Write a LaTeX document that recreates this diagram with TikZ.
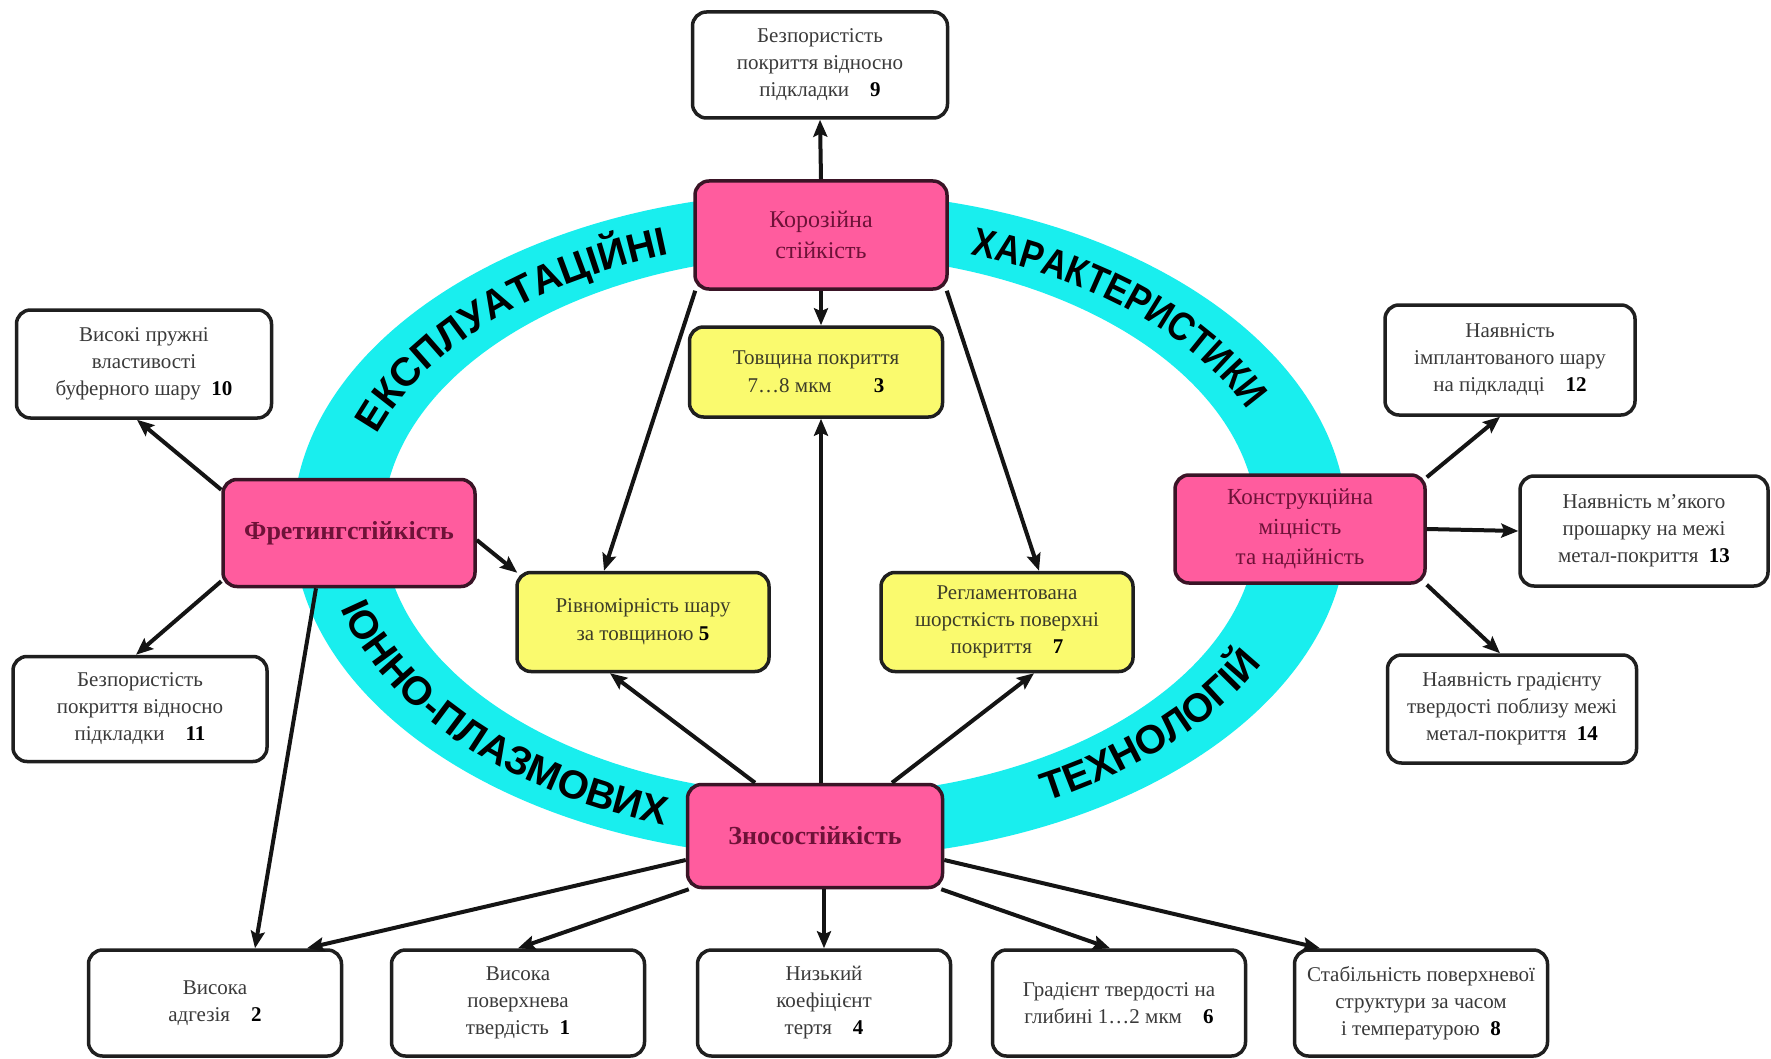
\documentclass[tikz,border=0pt]{standalone}
\usepackage{fontspec}
\setmainfont{Liberation Serif}
\newfontfamily\ringfam{Liberation Sans}
\newfontfamily\ringfamc[FakeStretch=0.86]{Liberation Sans}
\usetikzlibrary{arrows.meta,decorations.text}
\definecolor{ringc}{HTML}{19EEEE}
\definecolor{pinkfill}{HTML}{FF5C9E}
\definecolor{pinkline}{HTML}{3A1426}
\definecolor{pinktext}{HTML}{6E1238}
\definecolor{yelfill}{HTML}{FAFA6E}
\definecolor{yeltext}{HTML}{3C3C28}
\definecolor{greytext}{HTML}{3A3A3A}
\newcommand\bnum[1]{\textbf{\textcolor{black}{#1}}}
\newcommand\ringtxt{\ringfam\bfseries\fontsize{40}{40}\selectfont}
\newcommand\ringtxtc{\ringfamc\bfseries\fontsize{40}{40}\selectfont}
\begin{document}
\begin{tikzpicture}[x=1pt,y=1pt,
  box/.style={rounded corners=14pt, line width=3.5pt, draw=black!88, inner sep=0pt,
    minimum width=253pt, minimum height=106pt, align=center,
    font=\fontsize{21}{27}\selectfont},
  wbox/.style={box, fill=white, text=greytext},
  ybox/.style={box, fill=yelfill, text=yeltext},
  pbox/.style={box, fill=pinkfill, draw=pinkline, text=pinktext, font=\fontsize{24}{31}\selectfont},
  pboxb/.style={pbox, font=\fontsize{26}{32}\selectfont\bfseries},
  arr/.style={line width=4pt, draw=black!92, -{Stealth[length=17pt,width=14pt,inset=3pt]}}
]
\useasboundingbox (0,0) rectangle (1771,-1059);
\fill[white] (0,0) rectangle (1771,-1059);

% ring
\fill[ringc, even odd rule] (820,-525) ellipse [x radius=527, y radius=333]
                            (820,-525) ellipse [x radius=437, y radius=270];
\begin{scope}[shift={(820,-525)}]
  \path[decorate, decoration={text along path, text align=center,
     text={|\ringtxt|ЕКСПЛУАТАЦІЙНІ}}]
     (172:467 and 286) arc[start angle=172, end angle=102, x radius=467, y radius=286];
  \path[decorate, decoration={text along path, text align=center,
     text={|\ringtxtc|ХАРАКТЕРИСТИКИ}}]
     (81:467 and 286) arc[start angle=81, end angle=9, x radius=467, y radius=286];
  \path[decorate, decoration={text along path, text align=center,
     text={|\ringtxt|ІОННО-ПЛАЗМОВИХ}}]
     (186:497 and 316) arc[start angle=186, end angle=258, x radius=497, y radius=316];
  \path[decorate, decoration={text along path, text align=center,
     text={|\ringtxt|ТЕХНОЛОГІЙ}}]
     (289:494 and 311) arc[start angle=289, end angle=345, x radius=494, y radius=311];
\end{scope}

% nodes
\node[wbox, minimum width=255pt] (b9) at (820,-65) {Безпористість\\покриття відносно\\підкладки\quad\bnum{9}};
\node[pbox, minimum width=252pt, minimum height=108pt] (kor) at (821,-235) {Корозійна\\стійкість};
\node[ybox, minimum height=90pt, font=\fontsize{21}{28}\selectfont] (tov) at (816,-372) {Товщина покриття\\7…8 мкм\qquad\bnum{3}};
\node[wbox, minimum width=255pt, minimum height=108pt] (b10) at (144,-364) {Високі пружні\\властивості\\буферного шару\enspace\bnum{10}};
\node[pboxb, minimum width=252pt, minimum height=107pt] (fret) at (349,-533) {Фретингстійкість};
\node[wbox, minimum width=254pt, minimum height=105pt] (b11) at (140,-709) {Безпористість\\покриття відносно\\підкладки\quad\bnum{11}};
\node[ybox, minimum width=252pt, minimum height=99pt, font=\fontsize{21}{28}\selectfont] (riv) at (643,-622) {Рівномірність шару\\за товщиною \bnum{5}};
\node[ybox, minimum width=252pt, minimum height=99pt] (reg) at (1007,-622) {Регламентована\\шорсткість поверхні\\покриття\quad\bnum{7}};
\node[wbox, minimum width=250pt, minimum height=110pt] (b12) at (1510,-360) {Наявність\\імплантованого шару\\на підкладці\quad\bnum{12}};
\node[pbox, minimum width=250pt, minimum height=108pt, font=\fontsize{23}{30}\selectfont] (kon) at (1300,-529) {Конструкційна\\міцність\\та надійність};
\node[wbox, minimum width=248pt, minimum height=110pt] (b13) at (1644,-531) {Наявність м’якого\\прошарку на межі\\метал-покриття\enspace\bnum{13}};
\node[wbox, minimum width=249pt, minimum height=108pt] (b14) at (1512,-709) {Наявність градієнту\\твердості поблизу межі\\метал-покриття\enspace\bnum{14}};
\node[pboxb, minimum width=255pt, minimum height=103pt] (zn) at (815,-836) {Зносостійкість};
\node[wbox] (b2) at (215,-1003) {Висока\\адгезія\quad\bnum{2}};
\node[wbox] (b1) at (518,-1003) {Висока\\поверхнева\\твердість\enspace\bnum{1}};
\node[wbox] (b4) at (824,-1003) {Низький\\коефіцієнт\\тертя\quad\bnum{4}};
\node[wbox] (b6) at (1119,-1003) {Градієнт твердості на\\глибині 1…2 мкм\quad\bnum{6}};
\node[wbox] (b8) at (1421,-1003) {Стабільність поверхневої\\структури за часом\\і температурою\enspace\bnum{8}};

% connectors
\draw[arr] (kor.north) -- (b9.south);
\draw[arr] (kor.south) -- (kor.south |- tov.north);
\draw[arr] (zn.north -| kor.south) -- (kor.south |- tov.south);
\draw[arr] ([xshift=2pt]kor.south west) -- ([xshift=-39pt]riv.north);
\draw[arr] ([xshift=-2pt]kor.south east) -- ([xshift=32pt]reg.north);
\draw[arr] ([xshift=-60pt]zn.north) -- ([xshift=-33pt]riv.south);
\draw[arr] ([xshift=77pt]zn.north) -- ([xshift=27pt]reg.south);
\draw[arr] ([yshift=-7pt]fret.east) -- ([xshift=2pt,yshift=-2pt]riv.north west);
\draw[arr] ([yshift=-12pt]fret.north west) -- ([xshift=-7pt]b10.south);
\draw[arr] ([yshift=7pt]fret.south west) -- ([xshift=-4pt]b11.north);
\draw[arr] ([xshift=-33pt]fret.south) -- ([xshift=40pt]b2.north);
\draw[arr] ([yshift=-24pt]zn.west) -- ([xshift=92pt]b2.north);
\draw[arr] ([xshift=3pt]zn.south west) -- (b1.north);
\draw[arr] (zn.south -| b4.north) -- (b4.north);
\draw[arr] ([xshift=-3pt]zn.south east) -- ([xshift=-9pt]b6.north);
\draw[arr] ([yshift=-24pt]zn.east) -- ([xshift=-101pt]b8.north);
\draw[arr] ([yshift=-4pt]kon.north east) -- ([xshift=-10pt]b12.south);
\draw[arr] (kon.east) -- (b13.west);
\draw[arr] (kon.south east) -- ([xshift=-12pt]b14.north);
\end{tikzpicture}
\end{document}
